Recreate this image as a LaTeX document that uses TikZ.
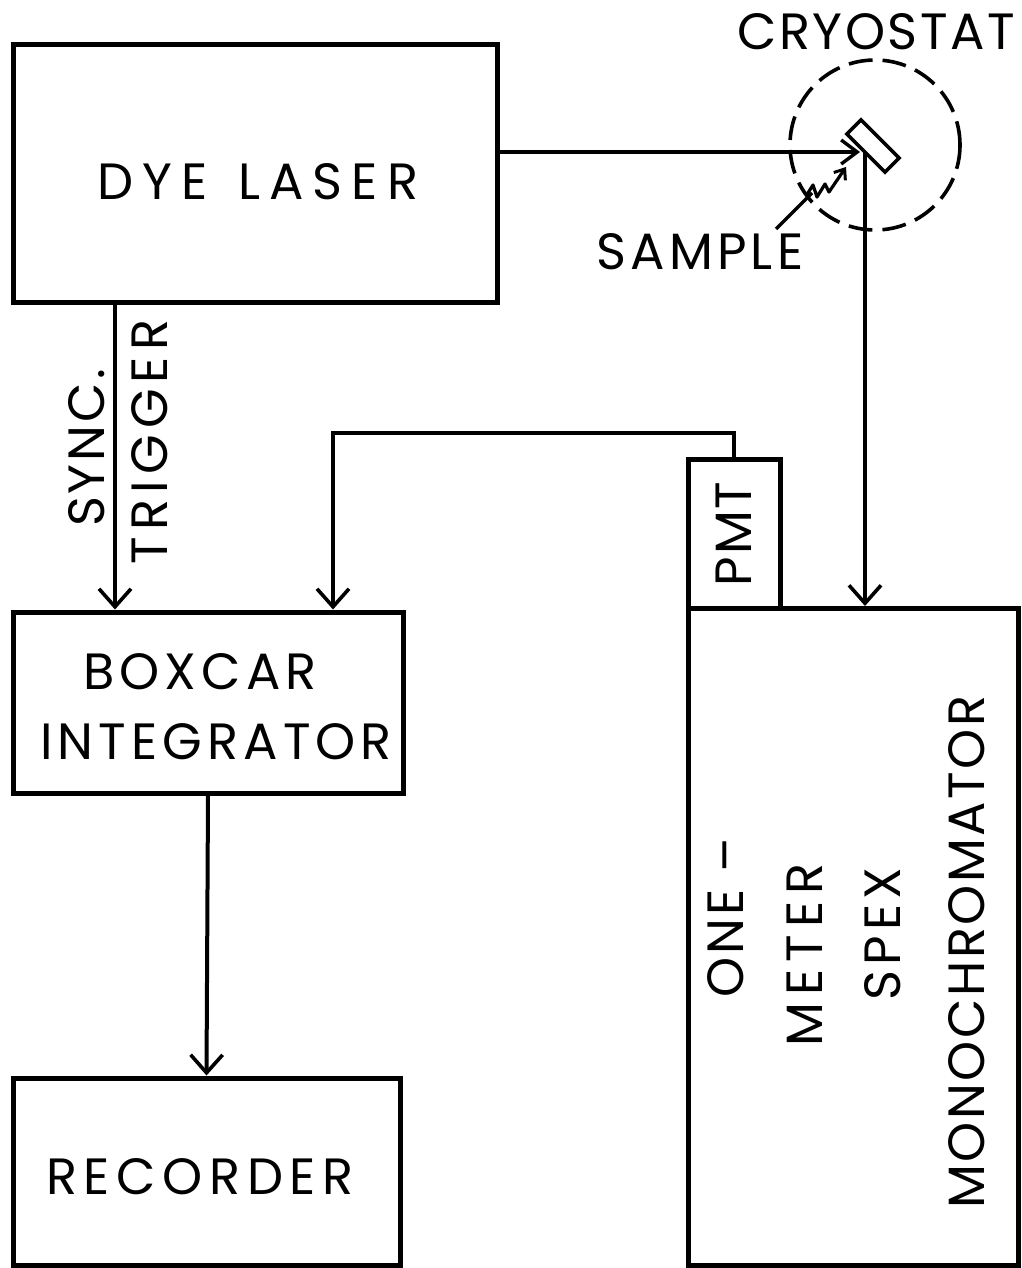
\documentclass[tikz,border=0pt]{standalone}
\usepackage{fontspec}
\setmainfont{Poppins}
\usetikzlibrary{arrows.meta,calc}
\begin{document}
\begin{tikzpicture}[x=1pt,y=-1pt,
  box/.style={draw,line width=5pt,rectangle,inner sep=0pt},
  lbl/.style={font=\fontsize{51}{58}\selectfont\addfontfeatures{LetterSpace=#1},inner sep=0pt},
  lbl/.default=6,
  wire/.style={line width=4pt},
  arr/.style={wire,-{Straight Barb[length=18pt,width=32pt,line width=3.6pt]}},
]
\useasboundingbox (0,0) rectangle (1021,1268);
% boxes
\node[box,minimum width=484pt,minimum height=257pt] (dye) at (255,173.5) {};
\node[box,minimum width=390pt,minimum height=181pt] (boxcar) at (208,702.5) {};
\node[box,minimum width=387pt,minimum height=187pt] (rec) at (206.5,1171.5) {};
\node[box,minimum width=92pt,minimum height=149pt] (pmt) at (734,533.5) {};
\node[box,minimum width=330pt,minimum height=657pt] (mono) at (853,937) {};
% texts
\node[lbl=18] (tdye) at (258,182) {DYE\hspace{30pt}LASER};
\node[lbl=10] (tbox1) at (200,672) {BOXCAR};
\node[lbl=10] (tbox2) at (216,742) {INTEGRATOR};
\node[lbl=13] (trec) at (200,1177) {RECORDER};
\node[lbl=4,rotate=90] (tpmt) at (734,534) {PMT};
\node[lbl=6,rotate=90] (tsync) at (87,448) {SYNC.};
\node[lbl=12,rotate=90] (ttrig) at (150,442) {TRIGGER};
\node[lbl=6,rotate=90] (tone) at (726,918) {ONE –};
\node[lbl=14,rotate=90] (tmeter) at (805,955) {METER};
\node[lbl=10,rotate=90] (tspex) at (883,934) {SPEX};
\node[lbl=5,rotate=90] (tmono) at (967,952) {MONOCHROMATOR};
\node[lbl=5] (tcryo) at (876,32) {CRYOSTAT};
\node[lbl=8] (tsample) at (700,252) {SAMPLE};
% cryostat
\node[draw,circle,dash pattern=on 24pt off 10pt,line width=3.6pt,minimum size=170pt,inner sep=0pt] (cryo) at (875,145) {};
\node[box,line width=3.6pt,minimum width=54pt,minimum height=20pt,rotate=-45] (samp) at (873,146) {};
% coordinates
\coordinate (beamstart) at (497,152);
\coordinate (beamend) at (860,152);
\coordinate (outstart) at (865,152);
\coordinate (sx) at (115,0);
\coordinate (px) at (333,0);
\coordinate (topy) at (0,433);
\coordinate (ptr) at (776,229);
\coordinate (ptrend) at (812,193);
\coordinate (sqs) at (806,196);
\coordinate (sqe) at (846,167);
% connectors
\draw[wire,-{Straight Barb[length=16pt,width=24pt,line width=3.4pt]}] (beamstart) -- (beamend);
\draw[arr] (outstart) -- (outstart |- mono.north);
\draw[arr] (dye.south -| sx) -- (boxcar.north -| sx);
\draw[arr] (pmt.north) -- (pmt.north |- topy) -- (px |- topy) -- (boxcar.north -| px);
\draw[arr] (boxcar.south) -- (rec.north);
\draw[line width=3.2pt] (ptr) -- (ptrend);
\draw[line width=3.2pt,line join=round,-{Straight Barb[length=9pt,width=14pt,line width=3pt]}]
  (sqs) -- ++(7,-11) -- ++(4,12) -- ++(8,-13) -- ++(4,8) -- (sqe);
\end{tikzpicture}
\end{document}
